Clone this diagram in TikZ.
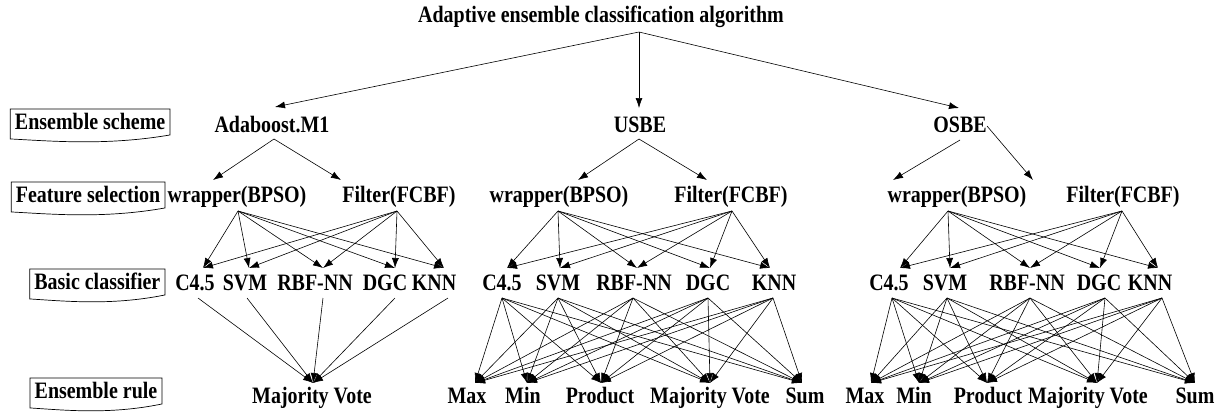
\documentclass[tikz,border=0pt]{standalone}
\usepackage{fontspec}
\setmainfont{Liberation Serif}[FakeStretch=0.85]
\usetikzlibrary{arrows.meta,calc}
\newcommand\mkpt[4]{\path (#1) ++(#2,#3) coordinate (#1-#4);}
\begin{document}
\begin{tikzpicture}[x=1pt,y=-1pt,
  lbl/.style={font=\fontsize{23.5}{28}\selectfont\bfseries, inner sep=0pt, text height=15.5pt, text depth=4pt},
  tag/.style={lbl, anchor=east, inner xsep=4.5pt, inner ysep=5pt},
  docb/.style={line width=0.7pt},
  arr/.style={-{Latex[length=10pt,width=7pt]}, line width=0.6pt}]
\useasboundingbox (0,0) rectangle (1227,416);

% row labels
\node[tag] (tA) at (170,124) {Ensemble scheme};
\node[tag] (tB) at (165,197) {Feature selection};
\node[tag] (tC) at (165,284) {Basic classifier};
\node[tag] (tD) at (162,393) {Ensemble rule};
\foreach \n in {tA,tB,tC,tD}{
  \draw[docb] (\n.north west) -- (\n.north east) -- ([yshift=4pt]\n.south east)
    .. controls ($(\n.south east)!0.4!(\n.south west)+(0pt,-7pt)$) and ($(\n.south east)!0.75!(\n.south west)+(0pt,-2pt)$) .. (\n.south west) -- cycle;
}

% level 1
\node[lbl] (title) at (601,17) {Adaptive ensemble classification algorithm};
\path (title) ++(38,15) coordinate (br);

% level 2
\node[lbl] (ada) at (272,127) {Adaboost.M1};
\node[lbl] (usbe) at (640,127) {USBE};
\node[lbl] (osbe) at (960,127) {OSBE};
\mkpt{ada}{3}{-20}{i} \mkpt{ada}{2}{12}{o}
\mkpt{usbe}{-1}{-19}{i} \mkpt{usbe}{-1}{12}{o}
\mkpt{osbe}{-1}{-19}{i} \mkpt{osbe}{0}{13}{o} \mkpt{osbe}{27}{-1}{r}

% level 3
\node[lbl] (w1) at (237,197) {wrapper(BPSO)};
\node[lbl] (f1) at (399,197) {Filter(FCBF)};
\node[lbl] (w2) at (559,197) {wrapper(BPSO)};
\node[lbl] (f2) at (731,197) {Filter(FCBF)};
\node[lbl] (w3) at (957,197) {wrapper(BPSO)};
\node[lbl] (f3) at (1123,197) {Filter(FCBF)};
\mkpt{w1}{-24}{-17}{i} \mkpt{w1}{1}{14}{o}
\mkpt{f1}{-58}{-17}{i} \mkpt{f1}{-2}{14}{o}
\mkpt{w2}{19}{-17}{i} \mkpt{w2}{-1}{14}{o}
\mkpt{f2}{-24}{-17}{i} \mkpt{f2}{1}{14}{o}
\mkpt{w3}{-64}{-17}{i} \mkpt{w3}{-9}{14}{o}
\mkpt{f3}{-90}{-17}{i} \mkpt{f3}{-1}{14}{o}

% level 4
\node[lbl] (c1a) at (195,285) {C4.5};
\node[lbl] (c1b) at (245,285) {SVM};
\node[lbl] (c1c) at (315,285) {RBF-NN};
\node[lbl] (c1d) at (385,285) {DGC};
\node[lbl] (c1e) at (434,285) {KNN};
\node[lbl] (c2a) at (502,285) {C4.5};
\node[lbl] (c2b) at (558,285) {SVM};
\node[lbl] (c2c) at (634,285) {RBF-NN};
\node[lbl] (c2d) at (708,285) {DGC};
\node[lbl] (c2e) at (774,285) {KNN};
\node[lbl] (c3a) at (889,285) {C4.5};
\node[lbl] (c3b) at (945,285) {SVM};
\node[lbl] (c3c) at (1027,285) {RBF-NN};
\node[lbl] (c3d) at (1099,285) {DGC};
\node[lbl] (c3e) at (1150,285) {KNN};
\mkpt{c1a}{8}{-17}{i} \mkpt{c1a}{3}{13}{o}
\mkpt{c1b}{4}{-17}{i} \mkpt{c1b}{2}{13}{o}
\mkpt{c1c}{8}{-17}{i} \mkpt{c1c}{8}{13}{o}
\mkpt{c1d}{10}{-17}{i} \mkpt{c1d}{10}{13}{o}
\mkpt{c1e}{10}{-17}{i} \mkpt{c1e}{14}{13}{o}
\mkpt{c2a}{5}{-17}{i} \mkpt{c2a}{0}{13}{o}
\mkpt{c2b}{2}{-17}{i} \mkpt{c2b}{0}{13}{o}
\mkpt{c2c}{3}{-17}{i} \mkpt{c2c}{-1}{13}{o}
\mkpt{c2d}{2}{-17}{i} \mkpt{c2d}{0}{13}{o}
\mkpt{c2e}{-4}{-17}{i} \mkpt{c2e}{-1}{13}{o}
\mkpt{c3a}{11}{-17}{i} \mkpt{c3a}{3}{13}{o}
\mkpt{c3b}{5}{-17}{i} \mkpt{c3b}{2}{13}{o}
\mkpt{c3c}{3}{-17}{i} \mkpt{c3c}{3}{13}{o}
\mkpt{c3d}{1}{-17}{i} \mkpt{c3d}{6}{13}{o}
\mkpt{c3e}{8}{-17}{i} \mkpt{c3e}{12}{13}{o}

% level 5
\node[lbl] (mv1) at (312,398) {Majority Vote};
\node[lbl] (max2) at (467,398) {Max};
\node[lbl] (min2) at (523,398) {Min};
\node[lbl] (prod2) at (600,398) {Product};
\node[lbl] (mv2) at (710,398) {Majority Vote};
\node[lbl] (sum2) at (805,398) {Sum};
\node[lbl] (max3) at (865,398) {Max};
\node[lbl] (min3) at (914,398) {Min};
\node[lbl] (prod3) at (988,398) {Product};
\node[lbl] (mv3) at (1088,398) {Majority Vote};
\node[lbl] (sum3) at (1195,398) {Sum};
\mkpt{mv1}{1}{-15}{i}
\mkpt{max2}{8}{-15}{i} \mkpt{min2}{4}{-15}{i} \mkpt{prod2}{1}{-15}{i}
\mkpt{mv2}{0}{-15}{i} \mkpt{sum2}{-3}{-15}{i}
\mkpt{max3}{6}{-15}{i} \mkpt{min3}{5}{-15}{i} \mkpt{prod3}{-1}{-15}{i}
\mkpt{mv3}{9}{-15}{i} \mkpt{sum3}{0}{-15}{i}

% connectors
\draw[arr] (br) -- (ada-i);
\draw[arr] (br) -- (usbe-i);
\draw[arr] (br) -- (osbe-i);
\draw[arr] (ada-o) -- (w1-i);
\draw[arr] (ada-o) -- (f1-i);
\draw[arr] (usbe-o) -- (w2-i);
\draw[arr] (usbe-o) -- (f2-i);
\draw[arr] (osbe-o) -- (w3-i);
\draw[arr] (osbe-r) -- (f3-i);
\foreach \c in {1,2,3}{
  \foreach \t in {a,b,c,d,e}{
    \draw[arr] (w\c-o) -- (c\c\t-i);
    \draw[arr] (f\c-o) -- (c\c\t-i);
  }
}
\foreach \t in {a,b,c,d,e}{
  \draw[arr] (c1\t-o) -- (mv1-i);
}
\foreach \c in {2,3}{
  \foreach \t in {a,b,c,d,e}{
    \foreach \r in {max,min,prod,mv,sum}{
      \draw[arr] (c\c\t-o) -- (\r\c-i);
    }
  }
}
\end{tikzpicture}
\end{document}
